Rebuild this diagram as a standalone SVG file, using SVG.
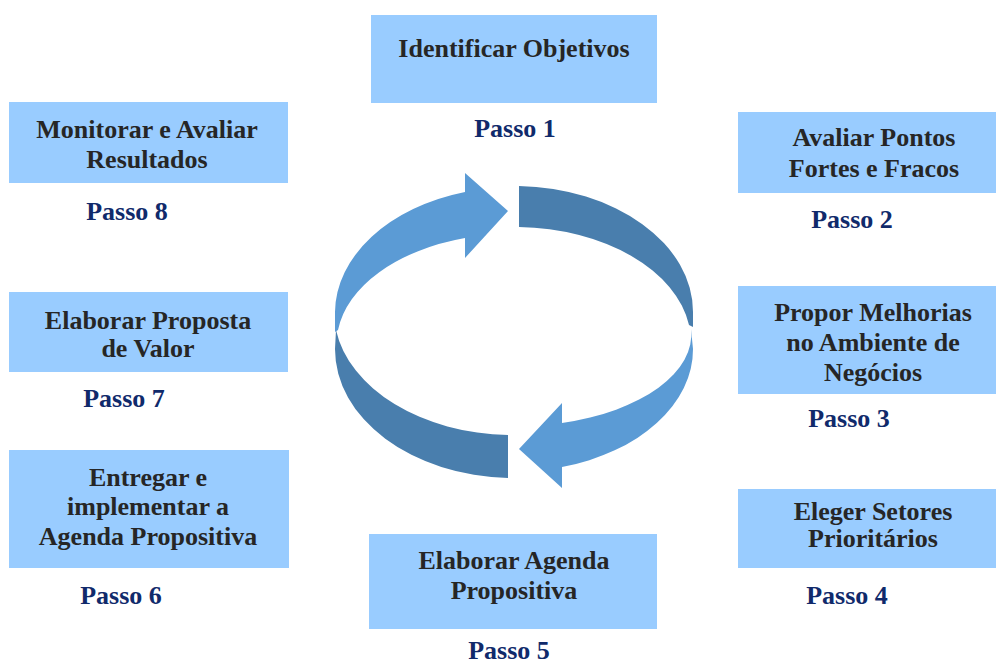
<svg xmlns="http://www.w3.org/2000/svg" width="996" height="666" viewBox="0 0 996 666">
  <style>
    .box { fill: #99CCFF; }
    .t { font-family: 'Liberation Serif', 'DejaVu Serif', serif; font-weight: 700; font-size: 26px; fill: #262626; text-anchor: middle; }
    .p { font-family: 'Liberation Serif', 'DejaVu Serif', serif; font-weight: 700; font-size: 26px; fill: #102A6B; text-anchor: middle; }
    .light { fill: #5B9BD5; }
    .dark { fill: #497EAD; }
  </style>
  <rect width="996" height="666" fill="#ffffff"/>

  <g id="cycle-arrows">
    <path class="dark" d="M 519,186 A 179 126 0 0 1 693,312 L 693,327 L 689,325 A 177 115 0 0 0 519,227 Z"/>
    <path class="dark" d="M 336,330 A 179 124 0 0 0 508,435 L 508,478 A 179 129 0 0 1 335,349 Z"/>
    <path class="light" d="M 335,332 L 335,312 A 179 126 0 0 1 465,192 L 465,173 L 508,211 L 465,258 L 465,238 A 177 110 0 0 0 338,330 Z"/>
    <path class="light" d="M 693,349 A 179 122 0 0 1 562,467 L 562,488 L 519,449 L 562,403 L 562,423 A 178 92 0 0 0 691,329 Z"/>
  </g>

  <g id="step1">
    <rect class="box" x="371" y="15" width="286" height="88"/>
    <text class="t" x="514" y="57">Identificar Objetivos</text>
    <text class="p" x="515" y="137">Passo 1</text>
  </g>

  <g id="step2">
    <rect class="box" x="738" y="112" width="258" height="81"/>
    <text class="t" x="874" y="146">Avaliar Pontos</text>
    <text class="t" x="874" y="177">Fortes e Fracos</text>
    <text class="p" x="852" y="228">Passo 2</text>
  </g>

  <g id="step3">
    <rect class="box" x="738" y="286" width="258" height="108"/>
    <text class="t" x="873" y="321">Propor Melhorias</text>
    <text class="t" x="873" y="351">no Ambiente de</text>
    <text class="t" x="873" y="381">Negócios</text>
    <text class="p" x="849" y="427">Passo 3</text>
  </g>

  <g id="step4">
    <rect class="box" x="738" y="489" width="258" height="79"/>
    <text class="t" x="873" y="520">Eleger Setores</text>
    <text class="t" x="873" y="547">Prioritários</text>
    <text class="p" x="847" y="604">Passo 4</text>
  </g>

  <g id="step5">
    <rect class="box" x="369" y="534" width="288" height="95"/>
    <text class="t" x="514" y="569">Elaborar Agenda</text>
    <text class="t" x="514" y="599">Propositiva</text>
    <text class="p" x="509" y="659">Passo 5</text>
  </g>

  <g id="step6">
    <rect class="box" x="9" y="450" width="280" height="118"/>
    <text class="t" x="148" y="486">Entregar e</text>
    <text class="t" x="148" y="515">implementar a</text>
    <text class="t" x="148" y="545">Agenda Propositiva</text>
    <text class="p" x="121" y="604">Passo 6</text>
  </g>

  <g id="step7">
    <rect class="box" x="9" y="292" width="279" height="80"/>
    <text class="t" x="148" y="329">Elaborar Proposta</text>
    <text class="t" x="148" y="357">de Valor</text>
    <text class="p" x="124" y="407">Passo 7</text>
  </g>

  <g id="step8">
    <rect class="box" x="9" y="102" width="279" height="81"/>
    <text class="t" x="147" y="138">Monitorar e Avaliar</text>
    <text class="t" x="147" y="168">Resultados</text>
    <text class="p" x="127" y="220">Passo 8</text>
  </g>
</svg>
